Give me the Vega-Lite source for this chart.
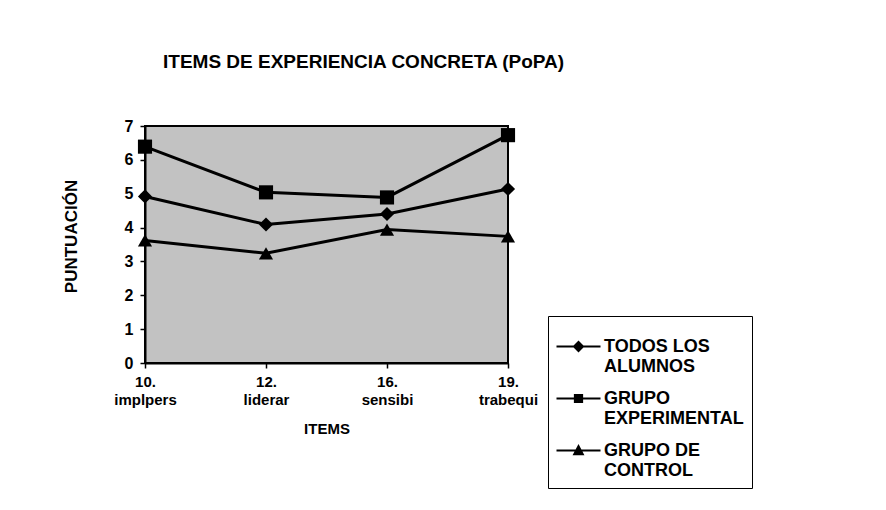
{
  "$schema": "https://vega.github.io/schema/vega-lite/v6.json",
  "width": 363,
  "height": 237,
  "autosize": {"type": "none"},
  "padding": {"left": 145, "top": 126, "right": 378, "bottom": 147},
  "background": "white",
  "config": {
    "font": "Liberation Sans",
    "view": {"fill": "#c2c2c2", "stroke": "black", "strokeWidth": 2}
  },
  "title": {
    "text": "ITEMS DE EXPERIENCIA CONCRETA (PoPA)",
    "font": "Liberation Sans",
    "fontSize": 19,
    "fontWeight": "bold",
    "color": "black",
    "anchor": "start",
    "frame": "group",
    "dx": 18,
    "baseline": "bottom",
    "offset": 27
  },
  "data": {
    "values": [
      {"item": "10. implpers", "serie": "TODOS LOS|ALUMNOS", "valor": 4.92},
      {"item": "12. liderar", "serie": "TODOS LOS|ALUMNOS", "valor": 4.09},
      {"item": "16. sensibi", "serie": "TODOS LOS|ALUMNOS", "valor": 4.40},
      {"item": "19. trabequi", "serie": "TODOS LOS|ALUMNOS", "valor": 5.14},
      {"item": "10. implpers", "serie": "GRUPO|EXPERIMENTAL", "valor": 6.39},
      {"item": "12. liderar", "serie": "GRUPO|EXPERIMENTAL", "valor": 5.04},
      {"item": "16. sensibi", "serie": "GRUPO|EXPERIMENTAL", "valor": 4.89},
      {"item": "19. trabequi", "serie": "GRUPO|EXPERIMENTAL", "valor": 6.73},
      {"item": "10. implpers", "serie": "GRUPO DE|CONTROL", "valor": 3.62},
      {"item": "12. liderar", "serie": "GRUPO DE|CONTROL", "valor": 3.24},
      {"item": "16. sensibi", "serie": "GRUPO DE|CONTROL", "valor": 3.94},
      {"item": "19. trabequi", "serie": "GRUPO DE|CONTROL", "valor": 3.74}
    ]
  },
  "encoding": {
    "x": {
      "field": "item",
      "type": "nominal",
      "sort": null,
      "scale": {"type": "point", "padding": 0},
      "axis": {
        "title": "ITEMS",
        "titleFont": "Liberation Sans",
        "titleFontSize": 15,
        "titleFontWeight": "bold",
        "titleColor": "black",
        "titlePadding": 14,
        "labelAngle": 0,
        "labelExpr": "split(datum.label, ' ')",
        "labelFont": "Liberation Sans",
        "labelFontSize": 15,
        "labelFontWeight": "bold",
        "labelColor": "black",
        "labelLineHeight": 18,
        "labelPadding": 6,
        "domainColor": "black",
        "domainWidth": 2,
        "tickColor": "black",
        "tickWidth": 1.5,
        "tickSize": 5,
        "grid": false
      }
    },
    "y": {
      "field": "valor",
      "type": "quantitative",
      "scale": {"domain": [0, 7], "nice": false},
      "axis": {
        "title": "PUNTUACIÓN",
        "titleFont": "Liberation Sans",
        "titleFontSize": 17,
        "titleFontWeight": "bold",
        "titleColor": "black",
        "titlePadding": 44,
        "titleY": 110,
        "values": [0, 1, 2, 3, 4, 5, 6, 7],
        "labelFont": "Liberation Sans",
        "labelFontSize": 16,
        "labelFontWeight": "bold",
        "labelColor": "black",
        "labelPadding": 7,
        "domainColor": "black",
        "domainWidth": 2,
        "tickColor": "black",
        "tickWidth": 1.5,
        "tickSize": 5,
        "grid": false
      }
    }
  },
  "layer": [
    {
      "mark": {"type": "line", "color": "black", "strokeWidth": 3},
      "encoding": {"detail": {"field": "serie", "type": "nominal"}}
    },
    {
      "mark": {"type": "point", "filled": true, "color": "black", "opacity": 1, "size": 200},
      "encoding": {
        "shape": {
          "field": "serie",
          "type": "nominal",
          "sort": null,
          "scale": {
            "domain": ["TODOS LOS|ALUMNOS", "GRUPO|EXPERIMENTAL", "GRUPO DE|CONTROL"],
            "range": ["diamond", "square", "triangle-up"]
          },
          "legend": null
        }
      }
    },
    {
      "mark": {"type": "point", "filled": true, "color": "black", "opacity": 0, "size": 10},
      "encoding": {
        "shape": {
          "field": "serie",
          "type": "nominal",
          "sort": null,
          "scale": {
            "domain": ["TODOS LOS|ALUMNOS", "GRUPO|EXPERIMENTAL", "GRUPO DE|CONTROL"],
            "range": [
              "M-1,-0.05H1V0.05H-1ZM0,-0.27L0.27,0L0,0.27L-0.27,0Z",
              "M-1,-0.05H1V0.05H-1ZM-0.21,-0.21H0.21V0.21H-0.21Z",
              "M-1,-0.05H1V0.05H-1ZM0,-0.29L0.27,0.22H-0.27Z"
            ]
          },
          "legend": {
            "title": null,
            "orient": "none",
            "legendX": 403,
            "legendY": 190,
            "padding": 8,
            "strokeColor": "black",
            "fillColor": "white",
            "symbolSize": 1936,
            "symbolOpacity": 1,
            "symbolFillColor": "black",
            "symbolStrokeColor": "black",
            "symbolStrokeWidth": 0.5,
            "rowPadding": 0,
            "labelExpr": "split(datum.label, '|')",
            "labelFont": "Liberation Sans",
            "labelFontSize": 18,
            "labelFontWeight": "bold",
            "labelColor": "black",
            "labelLineHeight": 17,
            "labelOffset": 3,
            "labelLimit": 300
          }
        }
      }
    }
  ],
  "resolve": {"scale": {"shape": "independent"}, "legend": {"shape": "independent"}}
}
